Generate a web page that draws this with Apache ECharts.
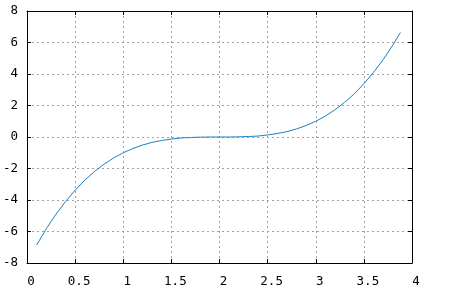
<!DOCTYPE html>
<html><head><meta charset="utf-8">
<script src="https://cdn.jsdelivr.net/npm/echarts@6/dist/echarts.min.js"></script>
<style>html,body{margin:0;padding:0;background:#fff}#c{width:452px;height:292px}</style>
</head><body><div id="c"></div>
<script>
const xValues = [0.1,0.2,0.3,0.4,0.5,0.6,0.7,0.8,0.9,1.0,1.1,1.2,1.3,1.4,1.5,1.6,1.7,1.8,1.9,2.0,2.1,2.2,2.3,2.4,2.5,2.6,2.7,2.8,2.9,3.0,3.1,3.2,3.3,3.4,3.5,3.6,3.7,3.8,3.88];
const yValues = [-6.86,-5.83,-4.91,-4.10,-3.38,-2.74,-2.20,-1.73,-1.33,-1.00,-0.73,-0.51,-0.34,-0.22,-0.13,-0.06,-0.03,-0.01,0.00,0.00,0.00,0.01,0.03,0.06,0.13,0.22,0.34,0.51,0.73,1.00,1.33,1.73,2.20,2.74,3.38,4.10,4.91,5.83,6.64];
const xTicks = {min:0, max:4, interval:0.5};
const yTicks = {min:-8, max:8, interval:2};

const chart = echarts.init(document.getElementById('c'), null, {renderer:'canvas'});
const font = {fontFamily:'DejaVu Sans Mono', fontSize:12.5, color:'#000'};
const axisLine = {show:true, onZero:false, lineStyle:{color:'#000', width:1}};
const split = {show:true, lineStyle:{color:'#a0a0a0', type:[2,3], width:1}};
const tick = {show:true, inside:true, length:4, lineStyle:{color:'#000'}};
chart.setOption({
  animation:false,
  grid:{left:27, right:40, top:11, bottom:29, containLabel:false, outerBoundsMode:'none'},
  xAxis:[
    {type:'value', min:xTicks.min, max:xTicks.max, interval:xTicks.interval, position:'bottom',
     axisLine, axisTick:tick, splitLine:split, axisLabel:Object.assign({margin:12, padding:[0,0,0,8]}, font)},
    {type:'value', min:xTicks.min, max:xTicks.max, interval:xTicks.interval, position:'top',
     axisLine, axisTick:tick, splitLine:{show:false}, axisLabel:{show:false}}
  ],
  yAxis:[
    {type:'value', min:yTicks.min, max:yTicks.max, interval:yTicks.interval, position:'left',
     axisLine, axisTick:tick, splitLine:split, axisLabel:Object.assign({margin:9}, font)},
    {type:'value', min:yTicks.min, max:yTicks.max, interval:yTicks.interval, position:'right',
     axisLine, axisTick:tick, splitLine:{show:false}, axisLabel:{show:false}}
  ],
  series:[{
    type:'line', xAxisIndex:0, yAxisIndex:0,
    data:xValues.map((x,i)=>[x,yValues[i]]),
    showSymbol:false, symbol:'none', smooth:false,
    lineStyle:{color:'#1a7fc4', width:1}
  }]
});
</script></body></html>
